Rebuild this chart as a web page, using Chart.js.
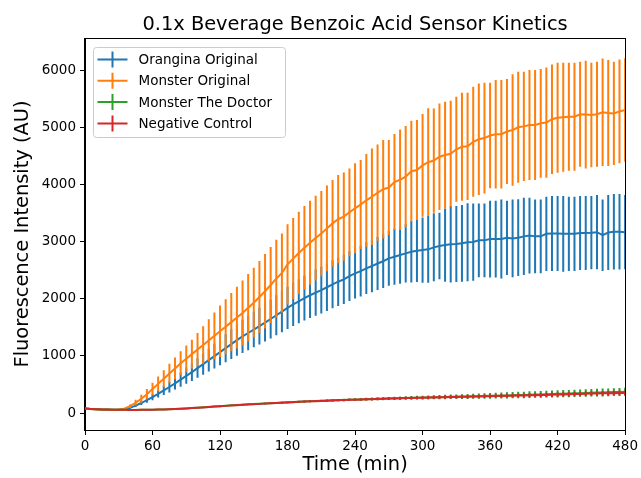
<!DOCTYPE html>
<html>
<head>
<meta charset="utf-8">
<title>0.1x Beverage Benzoic Acid Sensor Kinetics</title>
<script src="https://cdn.jsdelivr.net/npm/chart.js@4.4.1/dist/chart.umd.min.js"></script>
<style>
  html, body { margin: 0; padding: 0; background: #fff; }
  canvas { display: block; }
</style>
</head>
<body>
<canvas id="kinetics" width="641" height="478"></canvas>
<script>
// time points (min)
const times = [
  0, 5, 10, 15, 20, 25, 30, 35, 40, 45, 50, 55,
  60, 65, 70, 75, 80, 85, 90, 95, 100, 105, 110, 115,
  120, 125, 130, 135, 140, 145, 150, 155, 160, 165, 170, 175,
  180, 185, 190, 195, 200, 205, 210, 215, 220, 225, 230, 235,
  240, 245, 250, 255, 260, 265, 270, 275, 280, 285, 290, 295,
  300, 305, 310, 315, 320, 325, 330, 335, 340, 345, 350, 355,
  360, 365, 370, 375, 380, 385, 390, 395, 400, 405, 410, 415,
  420, 425, 430, 435, 440, 445, 450, 455, 460, 465, 470, 475,
  480
];

const seriesNames = ["Orangina Original", "Monster Original", "Monster The Doctor", "Negative Control"];

// Orangina Original
const orangina = [
  80, 70, 65, 60, 58, 57, 58, 65, 90, 130, 175, 225,
  280, 335, 395, 455, 520, 585, 650, 715, 785, 855, 925, 995,
  1065, 1135, 1205, 1275, 1340, 1400, 1460, 1520, 1580, 1645, 1710, 1775,
  1840, 1900, 1955, 2010, 2060, 2105, 2150, 2200, 2251, 2297, 2338, 2396,
  2443, 2483, 2531, 2571, 2615, 2655, 2706, 2734, 2763, 2793, 2821, 2839,
  2851, 2863, 2898, 2921, 2938, 2951, 2956, 2968, 2986, 2991, 3020, 3020,
  3043, 3043, 3046, 3064, 3055, 3067, 3090, 3104, 3090, 3090, 3134, 3139,
  3139, 3134, 3134, 3134, 3148, 3148, 3154, 3163, 3110, 3157, 3171, 3171,
  3163
];
const oranginaErr = [
  3, 3, 3, 3, 3, 3, 3, 5, 15, 25, 35, 45,
  55, 65, 80, 95, 110, 125, 140, 155, 170, 185, 200, 215,
  230, 245, 260, 275, 290, 300, 310, 320, 330, 340, 350, 360,
  370, 378, 386, 393, 400, 405, 410, 415, 420, 425, 430, 435,
  440, 445, 450, 460, 465, 470, 480, 490, 500, 510, 536, 545,
  571, 583, 595, 583, 641, 670, 665, 670, 682, 676, 647, 647,
  671, 671, 691, 650, 682, 671, 676, 662, 647, 647, 650, 656,
  656, 662, 650, 650, 647, 647, 641, 650, 627, 656, 659, 659,
  650
];

// Monster Original
const monster = [
  80, 72, 66, 62, 58, 57, 60, 75, 120, 180, 250, 330,
  420, 510, 600, 690, 780, 870, 950, 1030, 1110, 1190, 1270, 1350,
  1430, 1510, 1590, 1670, 1750, 1840, 1930, 2030, 2130, 2240, 2350, 2450,
  2600, 2700, 2800, 2890, 2980, 3060, 3140, 3230, 3317, 3390, 3437, 3512,
  3580, 3647, 3720, 3783, 3853, 3914, 3944, 4040, 4080, 4133, 4229, 4250,
  4332, 4387, 4416, 4483, 4512, 4535, 4614, 4658, 4665, 4745, 4789, 4810,
  4854, 4877, 4877, 4924, 4950, 4999, 5014, 5037, 5037, 5067, 5081, 5139,
  5165, 5174, 5183, 5183, 5226, 5221, 5212, 5226, 5261, 5247, 5241, 5276,
  5300
];
const monsterErr = [
  3, 3, 3, 3, 3, 3, 5, 12, 30, 50, 70, 90,
  110, 130, 150, 170, 190, 210, 230, 250, 290, 330, 370, 410,
  450, 480, 510, 540, 570, 590, 610, 630, 650, 665, 680, 690,
  700, 710, 720, 730, 735, 740, 745, 750, 758, 772, 772, 767,
  787, 778, 810, 845, 845, 860, 831, 840, 880, 886, 883, 875,
  898, 942, 912, 933, 933, 927, 918, 944, 939, 962, 977, 968,
  924, 948, 948, 918, 974, 971, 956, 962, 962, 950, 965, 959,
  962, 953, 944, 944, 918, 942, 915, 918, 942, 927, 904, 909,
  904
];

// Monster The Doctor
const doctor = [
  80, 72, 66, 62, 60, 58, 57, 56, 55, 55, 56, 57,
  58, 60, 63, 66, 71, 76, 81, 87, 93, 100, 107, 114,
  120, 127, 134, 140, 146, 152, 157, 162, 167, 172, 177, 182,
  187, 192, 197, 202, 206, 210, 214, 218, 222, 226, 229, 232,
  235, 238, 242, 245, 248, 251, 254, 257, 260, 263, 266, 268,
  270, 273, 276, 278, 280, 283, 285, 287, 290, 293, 295, 298,
  300, 304, 306, 308, 312, 314, 317, 321, 323, 326, 330, 332,
  335, 339, 341, 344, 348, 350, 353, 357, 359, 362, 366, 368,
  370
];
const doctorErr = [
  4, 4, 4, 4, 4, 4, 4, 4, 4, 4, 4, 4,
  5, 5, 5, 6, 6, 6, 7, 7, 8, 8, 9, 9,
  10, 10, 11, 11, 12, 12, 13, 13, 14, 14, 15, 15,
  16, 16, 17, 17, 18, 18, 19, 19, 20, 20, 21, 21,
  22, 23, 24, 25, 26, 27, 28, 29, 30, 31, 32, 33,
  34, 35, 36, 37, 38, 39, 40, 42, 44, 45, 46, 48,
  50, 51, 52, 54, 55, 56, 57, 58, 58, 59, 60, 61,
  62, 62, 63, 64, 65, 65, 66, 67, 68, 68, 69, 70,
  70
];

// Negative Control
const negative = [
  80, 72, 66, 62, 60, 58, 57, 56, 55, 55, 56, 57,
  58, 60, 62, 65, 70, 75, 80, 86, 92, 98, 105, 112,
  118, 125, 132, 138, 144, 150, 155, 160, 165, 170, 175, 180,
  185, 190, 195, 200, 204, 208, 212, 216, 220, 224, 227, 230,
  233, 236, 240, 243, 246, 249, 252, 255, 258, 261, 264, 266,
  268, 270, 273, 275, 277, 279, 281, 283, 285, 288, 290, 292,
  295, 297, 299, 301, 304, 306, 308, 310, 312, 314, 316, 319,
  322, 325, 328, 331, 334, 337, 340, 342, 344, 346, 348, 350,
  352
];
const negativeErr = [
  3, 3, 3, 3, 3, 3, 3, 3, 3, 3, 3, 3,
  4, 4, 4, 5, 5, 5, 6, 6, 6, 7, 7, 7,
  8, 8, 9, 9, 10, 10, 11, 11, 12, 12, 13, 13,
  14, 14, 15, 15, 16, 16, 17, 17, 18, 18, 19, 19,
  20, 20, 21, 21, 22, 22, 23, 23, 24, 24, 25, 25,
  26, 26, 27, 27, 28, 28, 29, 29, 30, 30, 31, 31,
  32, 32, 33, 33, 34, 34, 35, 35, 36, 36, 37, 37,
  38, 38, 39, 39, 40, 40, 41, 41, 42, 42, 43, 43,
  44
];

const xTicks = [0, 60, 120, 180, 240, 300, 360, 420, 480];
const yTicks = [0, 1000, 2000, 3000, 4000, 5000, 6000];

const colors = ["#1f77b4", "#ff7f0e", "#2ca02c", "#d62728"];

Chart.defaults.font.family = "'DejaVu Sans', sans-serif";
Chart.defaults.color = "#000";

function points(vals) {
  return vals.map(function (v, i) {
    return { x: times[i], y: v };
  });
}

const allMeans = [orangina, monster, doctor, negative];
const allErrs = [oranginaErr, monsterErr, doctorErr, negativeErr];

const datasets = allMeans.map(function (vals, i) {
  return {
    label: seriesNames[i],
    data: points(vals),
    errors: allErrs[i],
    borderColor: colors[i],
    backgroundColor: colors[i],
    borderWidth: 2,
    pointRadius: 0,
    tension: 0,
    fill: false,
    order: 3 - i, // later series on top, like matplotlib
  };
});

// vertical error bars, drawn just under each dataset's line
const errorBars = {
  id: "errorBars",
  beforeDatasetDraw(chart, args) {
    const ds = chart.data.datasets[args.index];
    const xs = chart.scales.x;
    const ys = chart.scales.y;
    const a = chart.chartArea;
    const ctx = chart.ctx;
    ctx.save();
    ctx.beginPath();
    ctx.rect(a.left, a.top, a.right - a.left, a.bottom - a.top);
    ctx.clip();
    ctx.strokeStyle = ds.borderColor;
    ctx.lineWidth = 2;
    ctx.beginPath();
    ds.data.forEach(function (p, i) {
      const e = ds.errors[i];
      const x = xs.getPixelForValue(p.x);
      ctx.moveTo(x, ys.getPixelForValue(p.y - e));
      ctx.lineTo(x, ys.getPixelForValue(p.y + e));
    });
    ctx.stroke();
    ctx.restore();
  },
};

// box around the axes + title
const frame = {
  id: "frame",
  afterDatasetsDraw(chart) {
    const a = chart.chartArea;
    const ctx = chart.ctx;
    ctx.save();
    ctx.strokeStyle = "#000";
    ctx.lineWidth = 1;
    ctx.strokeRect(Math.round(a.left) - 0.5, Math.round(a.top) + 0.5,
      Math.round(a.right - a.left) + 1, Math.round(a.bottom - a.top));
    ctx.fillStyle = "#000";
    ctx.font = "19.4px 'DejaVu Sans'";
    ctx.textAlign = "center";
    ctx.textBaseline = "alphabetic";
    ctx.fillText("0.1x Beverage Benzoic Acid Sensor Kinetics", (a.left + a.right) / 2, a.top - 8);
    ctx.restore();
  },
};

// matplotlib-style legend in the upper left corner
const legendBox = {
  id: "legendBox",
  afterDraw(chart) {
    const a = chart.chartArea;
    const ctx = chart.ctx;
    const x0 = a.left + 8.5, y0 = a.top + 9.5, w = 192, h = 90, r = 3;
    ctx.save();
    ctx.beginPath();
    ctx.moveTo(x0 + r, y0);
    ctx.lineTo(x0 + w - r, y0);
    ctx.arcTo(x0 + w, y0, x0 + w, y0 + r, r);
    ctx.lineTo(x0 + w, y0 + h - r);
    ctx.arcTo(x0 + w, y0 + h, x0 + w - r, y0 + h, r);
    ctx.lineTo(x0 + r, y0 + h);
    ctx.arcTo(x0, y0 + h, x0, y0 + h - r, r);
    ctx.lineTo(x0, y0 + r);
    ctx.arcTo(x0, y0, x0 + r, y0, r);
    ctx.closePath();
    ctx.fillStyle = "rgba(255,255,255,0.8)";
    ctx.fill();
    ctx.strokeStyle = "#cccccc";
    ctx.lineWidth = 1;
    ctx.stroke();

    ctx.font = "13.5px 'DejaVu Sans'";
    ctx.textAlign = "left";
    ctx.textBaseline = "middle";
    chart.data.datasets.forEach(function (ds, i) {
      const y = y0 + 12 + i * 21.3;
      ctx.strokeStyle = ds.borderColor;
      ctx.lineWidth = 2;
      ctx.beginPath();
      ctx.moveTo(x0 + 4, y);
      ctx.lineTo(x0 + 34, y);
      ctx.moveTo(x0 + 19, y - 8);
      ctx.lineTo(x0 + 19, y + 8);
      ctx.stroke();
      ctx.fillStyle = "#000";
      ctx.fillText(ds.label, x0 + 45, y + 1);
    });
    ctx.restore();
  },
};

const ctx = document.getElementById("kinetics").getContext("2d");
const chart = new Chart(ctx, {
  type: "line",
  data: { datasets: datasets },
  options: {
    responsive: false,
    animation: false,
    devicePixelRatio: 1,
    layout: { padding: { left: 0, right: 13, top: 38, bottom: 0 } },
    plugins: {
      legend: { display: false },
      tooltip: { enabled: false },
      title: { display: false },
    },
    scales: {
      x: {
        type: "linear",
        min: 0,
        max: 480,
        afterFit: function (s) { s.height = 48; },
        afterBuildTicks: function (s) {
          s.ticks = xTicks.map(function (v) { return { value: v }; });
        },
        grid: { drawOnChartArea: false, drawTicks: true, tickLength: 5, tickColor: "#000", color: "#000" },
        border: { display: true, color: "#000", width: 1 },
        ticks: {
          font: { size: 13.5 }, color: "#000", padding: 3, maxRotation: 0, autoSkip: false,
          callback: function (v) { return String(v); },
        },
        title: { display: true, text: "Time (min)", font: { size: 19.4 }, color: "#000", padding: { top: 0, bottom: 1 } },
      },
      y: {
        min: -297,
        max: 6560,
        afterFit: function (s) { s.width = 85; },
        afterBuildTicks: function (s) {
          s.ticks = yTicks.map(function (v) { return { value: v }; });
        },
        grid: { drawOnChartArea: false, drawTicks: true, tickLength: 5, tickColor: "#000", color: "#000" },
        border: { display: true, color: "#000", width: 1 },
        ticks: {
          font: { size: 13.5 }, color: "#000", padding: 4,
          callback: function (v) { return String(v); },
        },
        title: { display: true, text: "Fluorescence Intensity (AU)", font: { size: 19.4 }, color: "#000", padding: { top: 11, bottom: 0 } },
      },
    },
  },
  plugins: [errorBars, frame, legendBox],
});
</script>
</body>
</html>
